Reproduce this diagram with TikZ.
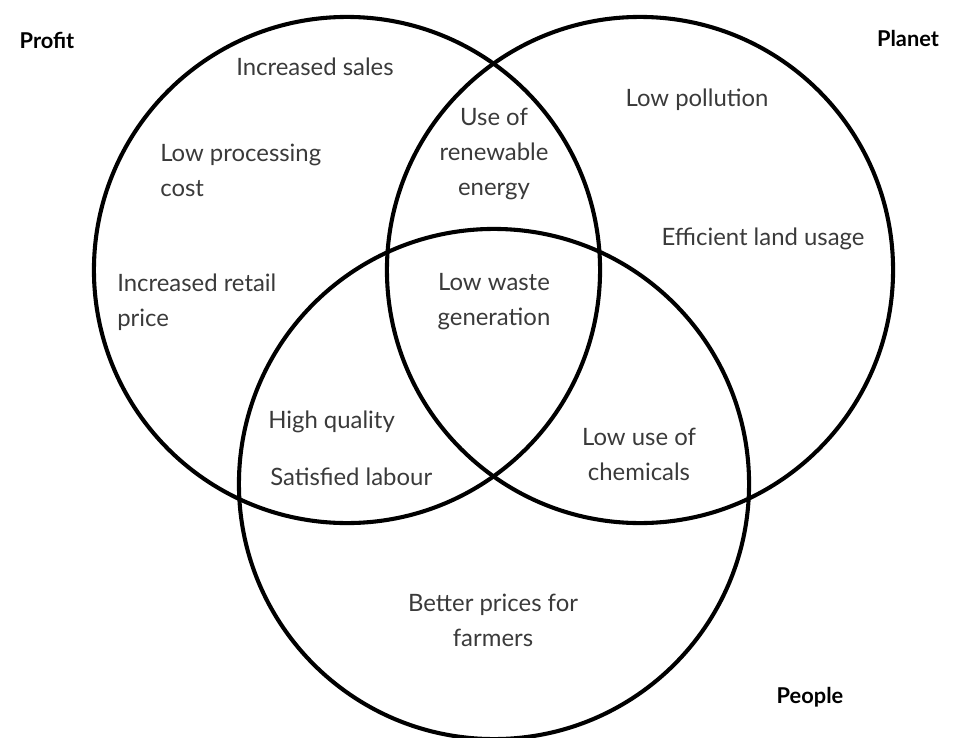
\documentclass[tikz,border=0pt]{standalone}
\usepackage{fontspec}
\setmainfont{Lato}
\usepackage{tikz}
\usetikzlibrary{positioning}
\definecolor{itemgray}{HTML}{3A3A3A}

\tikzset{
  set/.style={draw, circle, line width=2.9pt, inner sep=0pt},
  item/.style={text=itemgray, inner sep=0pt, font=\fontsize{17}{24.9}\selectfont},
  pillar/.style={inner sep=0pt, font=\fontsize{15.5}{19}\selectfont\bfseries}
}

\begin{document}
\begin{tikzpicture}[x=0.025cm, y=-0.025cm]
  \useasboundingbox (0,0) rectangle (954,737);
  \clip (0,0) rectangle (954,737);

  % the three sets
  \node[set, minimum size=12.65cm] at (347,270) (profit){};
  \node[set, minimum size=12.65cm] at (640,270) (planet){};
  \node[set, minimum size=12.75cm] at (494,484) (people){};

  \node[pillar] at (47,40) (profitlbl){Profit};
  \node[pillar] at (908,38) (planetlbl){Planet};
  \node[pillar] at (810,697) (peoplelbl){People};

  % profit only
  \node[item] at (315,67) (sales){Increased sales};
  \node[item, align=left, anchor=west] at (160,170) (cost){Low processing\\cost};
  \node[item, align=left, anchor=west] at (117,302) (retail){Increased retail\\price};

  % planet only
  \node[item] at (697,100) (pollution){Low pollution};
  \node[item] at (763,239) (land){Efficient land usage};

  % overlaps
  \node[item, align=center] at (494,154) (energy){Use of\\renewable\\energy};
  \node[item, align=center] at (494,302) (waste){Low waste\\generation};
  \node[item, anchor=west] at (268,422) (quality){High quality};
  \node[item, anchor=west] at (270,477) (labour){Satisfied labour};
  \node[item, align=center] at (639,454) (chemicals){Low use of\\chemicals};

  % people only
  \node[item, align=center] at (493,620) (farmers){Better prices for\\farmers};
\end{tikzpicture}
\end{document}
